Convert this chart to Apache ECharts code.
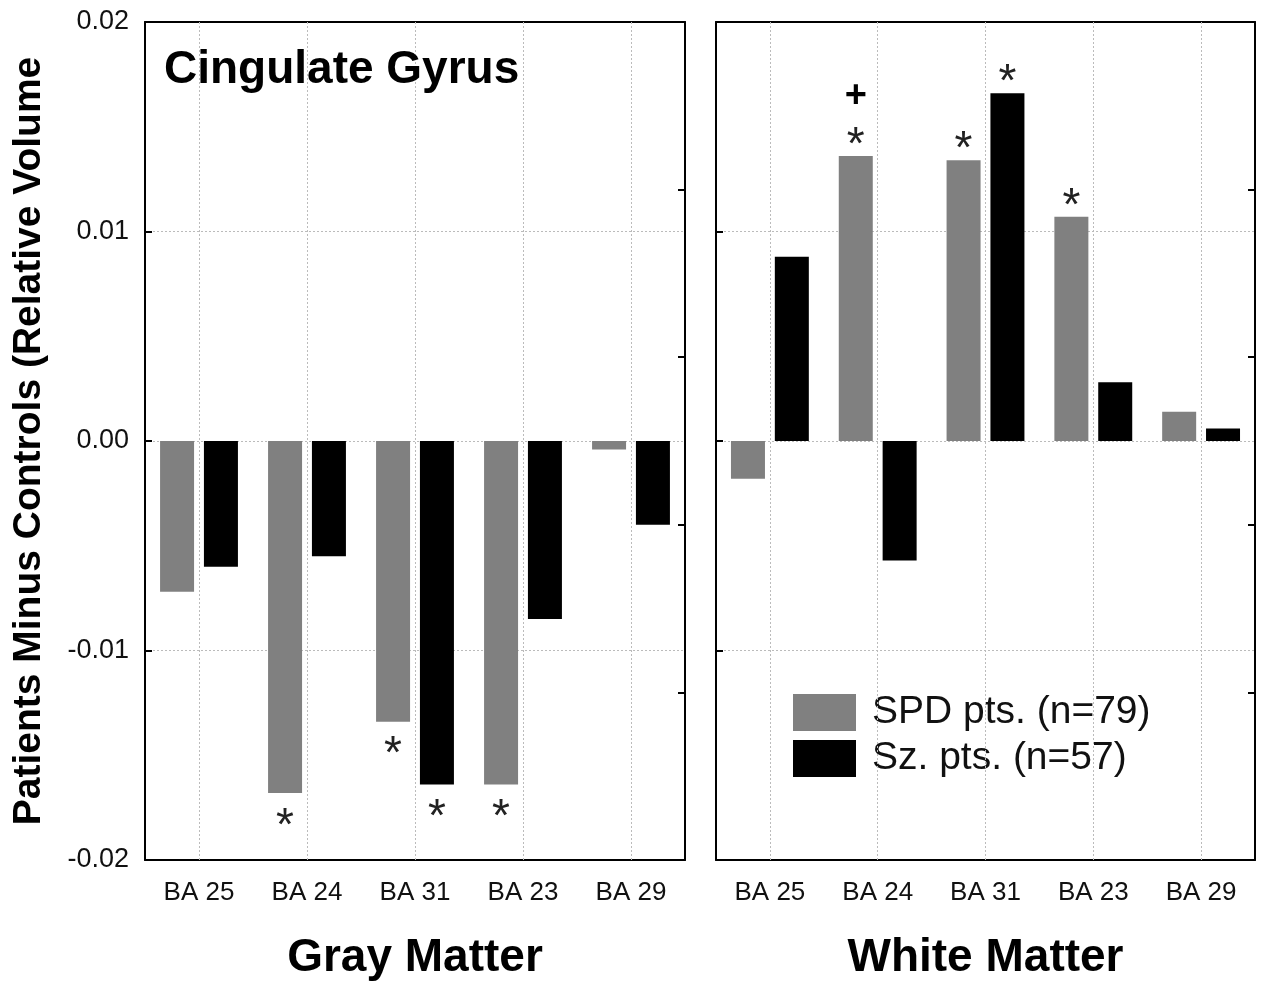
<!DOCTYPE html>
<html>
<head>
<meta charset="utf-8">
<script src="https://cdn.jsdelivr.net/npm/echarts@6/dist/echarts.min.js"></script>
<style>
  html, body { margin: 0; padding: 0; background: #fff; }
  #chart { width: 1264px; height: 983px; }
</style>
</head>
<body>
<div id="chart"></div>
<script>
const categories = ["BA 25", "BA 24", "BA 31", "BA 23", "BA 29"];

const graySPD = [-0.0072, -0.0168, -0.0134, -0.0164, -0.0004];
const graySz = [-0.0060, -0.0055, -0.0164, -0.0085, -0.0040];
const whiteSPD = [-0.0018, 0.0136, 0.0134, 0.0107, 0.0014];
const whiteSz = [0.0088, -0.0057, 0.0166, 0.0028, 0.0006];

// significance marks drawn next to bars
const graySPDMarks = ["", "*", "*", "*", ""];
const graySzMarks = ["", "", "*", "", ""];
const whiteSPDMarks = ["", "+*", "*", "*", ""];
const whiteSzMarks = ["", "", "*", "", ""];

const FONT = "Liberation Sans, Arial, sans-serif";
const chart = echarts.init(document.getElementById("chart"));

function withMarks(values, marks) {
  return values.map((v, i) => {
    const m = marks[i];
    if (!m) return v;
    const txt = m === "+*" ? "{p|+}\n{a|*}" : "{a|*}";
    return {
      value: v,
      label: { show: true, position: "outside", distance: v < 0 ? 24 : 0, formatter: txt }
    };
  });
}

const markRich = {
  a: { fontSize: 46, fontFamily: FONT, color: "#222", lineHeight: 20 },
  p: { fontSize: 38, fontFamily: FONT, fontWeight: "bold", color: "#000", lineHeight: 80 }
};

const dotted = { color: "#bbb", type: [2, 2], width: 1 };

function panelAxes(gi, name, showY) {
  return {
    x: [
      {
        gridIndex: gi, type: "category", data: categories, position: "bottom",
        axisLine: { onZero: false, lineStyle: { color: "#000", width: 2 } },
        axisTick: { inside: true, alignWithLabel: true, length: 7, lineStyle: { color: "#000", width: 2 } },
        axisLabel: { fontSize: 26, fontFamily: FONT, color: "#111", margin: 20 },
        name: name, nameLocation: "middle", nameGap: 75,
        nameTextStyle: { fontSize: 46, fontWeight: "bold", fontFamily: FONT, color: "#000" }
      },
      {
        gridIndex: gi, type: "category", data: categories, position: "top",
        axisLine: { onZero: false, lineStyle: { color: "#000", width: 2 } },
        axisTick: { inside: true, alignWithLabel: true, length: 7, lineStyle: { color: "#000", width: 2 } },
        axisLabel: { show: false }
      }
    ],
    y: [
      {
        gridIndex: gi, type: "value", min: -0.02, max: 0.02, interval: 0.01, position: "left",
        axisLine: { show: true, lineStyle: { color: "#000", width: 2 } },
        axisTick: { show: true, inside: true, length: 7, lineStyle: { color: "#000", width: 2 } },
        axisLabel: {
          show: showY, fontSize: 27, fontFamily: FONT, color: "#111", margin: 16,
          formatter: v => v.toFixed(2)
        },
        splitLine: { show: true, lineStyle: dotted },
        name: showY ? "Patients Minus Controls (Relative Volume" : "",
        nameLocation: "middle", nameGap: 96,
        nameTextStyle: { fontSize: 39, fontWeight: "bold", fontFamily: FONT, color: "#000" }
      },
      {
        gridIndex: gi, type: "value", min: 0, max: 5, interval: 1, position: "right",
        axisLine: { show: true, lineStyle: { color: "#000", width: 2 } },
        axisTick: { show: true, inside: true, length: 7, lineStyle: { color: "#000", width: 2 } },
        axisLabel: { show: false },
        splitLine: { show: false }
      }
    ]
  };
}

const left = panelAxes(0, "Gray Matter", true);
const right = panelAxes(1, "White Matter", false);

// empty line series that only carries the vertical dotted grid at category centres
function vGrid(xi, yi) {
  return {
    type: "line", xAxisIndex: xi, yAxisIndex: yi, data: [], silent: true, z: 1,
    markLine: {
      silent: true, symbol: "none", label: { show: false }, animation: false,
      lineStyle: dotted,
      data: categories.map(c => ({ xAxis: c }))
    }
  };
}

function bar(name, values, marks, color, xi, yi) {
  return {
    name: name, type: "bar", xAxisIndex: xi, yAxisIndex: yi,
    data: withMarks(values, marks),
    itemStyle: { color: color },
    barWidth: 34, barGap: "29%", z: 3,
    label: { show: false, rich: markRich },
    emphasis: { disabled: true }
  };
}

chart.setOption({
  animation: false,
  backgroundColor: "#fff",
  title: {
    text: "Cingulate Gyrus", left: 159, top: 42,
    textStyle: { fontSize: 46, fontWeight: "bold", fontFamily: FONT, color: "#000" }
  },
  legend: {
    orient: "vertical", left: 793, top: 693, padding: 0, itemGap: 7,
    itemWidth: 63, itemHeight: 37, icon: "rect",
    data: ["SPD pts. (n=79)", "Sz. pts. (n=57)"],
    textStyle: { fontSize: 39, fontFamily: FONT, color: "#111", padding: [0, 0, 0, 11] }
  },
  grid: [
    { left: 145, top: 22, width: 540, height: 838, outerBoundsMode: "none" },
    { left: 716, top: 22, width: 539, height: 838, outerBoundsMode: "none" }
  ],
  xAxis: [...left.x, ...right.x],
  yAxis: [...left.y, ...right.y],
  series: [
    vGrid(0, 0),
    vGrid(2, 2),
    bar("SPD pts. (n=79)", graySPD, graySPDMarks, "#808080", 0, 0),
    bar("Sz. pts. (n=57)", graySz, graySzMarks, "#000000", 0, 0),
    bar("SPD pts. (n=79)", whiteSPD, whiteSPDMarks, "#808080", 2, 2),
    bar("Sz. pts. (n=57)", whiteSz, whiteSzMarks, "#000000", 2, 2)
  ]
});
</script>
</body>
</html>
